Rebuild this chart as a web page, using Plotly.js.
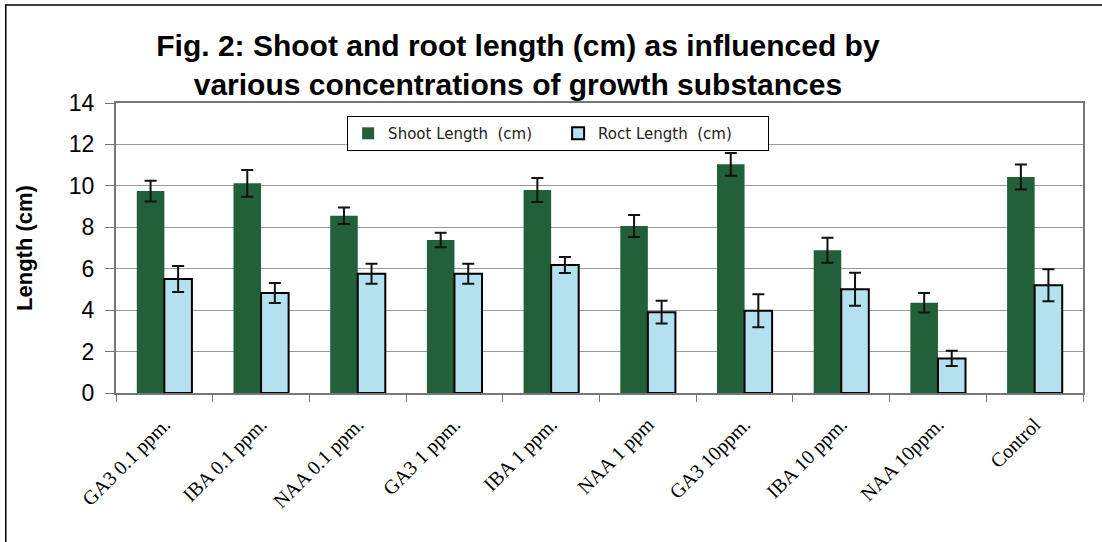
<!DOCTYPE html>
<html>
<head>
<meta charset="utf-8">
<script src="https://cdn.plot.ly/plotly-3.0.1.min.js"></script>
<style>html,body{margin:0;padding:0;background:#fff;}#chart{width:1102px;height:542px;}</style>
</head>
<body>
<div id="chart"></div>
<script>
const categories = ["GA3 0.1 ppm.", "IBA 0.1 ppm.", "NAA 0.1 ppm.", "GA3 1 ppm.", "IBA 1 ppm.", "NAA 1 ppm", "GA3 10ppm.", "IBA 10 ppm.", "NAA 10ppm.", "Control"];
const shootLength = [9.75, 10.12, 8.56, 7.39, 9.80, 8.06, 11.04, 6.89, 4.36, 10.43];
const shootError  = [0.50, 0.65, 0.40, 0.35, 0.58, 0.53, 0.55, 0.60, 0.47, 0.60];
const rootLength  = [5.50, 4.83, 5.76, 5.76, 6.18, 3.90, 3.97, 5.01, 1.67, 5.20];
const rootError   = [0.63, 0.48, 0.48, 0.48, 0.39, 0.55, 0.80, 0.80, 0.37, 0.77];
const yTicks = [0, 2, 4, 6, 8, 10, 12, 14];

const traces = [
  {
    type: "bar", name: "Shoot Length  (cm)", x: categories, y: shootLength,
    marker: {color: "#22603a", line: {width: 0}},
    error_y: {type: "data", array: shootError, visible: true, color: "#111", thickness: 2, width: 6}
  },
  {
    type: "bar", name: "Roct Length  (cm)", x: categories, y: rootLength,
    marker: {color: "#b4e1ef", line: {color: "#000", width: 2}},
    error_y: {type: "data", array: rootError, visible: true, color: "#111", thickness: 2, width: 6}
  }
];

const layout = {
  width: 1102, height: 542,
  margin: {l: 116, r: 19, t: 103, b: 149},
  paper_bgcolor: "#fff", plot_bgcolor: "#fff",
  barmode: "group", bargap: 0.43, bargroupgap: 0,
  title: {
    text: "Fig. 2: Shoot and root length (cm) as influenced by<br>various concentrations of growth substances",
    font: {family: "Liberation Sans, Arial, sans-serif", size: 30, color: "#000", weight: "bold"},
    x: 0.47, xanchor: "center", y: 0.897, yanchor: "top"
  },
  font: {family: "Liberation Sans, Arial, sans-serif", color: "#000"},
  xaxis: {
    type: "category", tickvals: categories, ticktext: categories,
    tickangle: -45, tickfont: {family: "Liberation Serif, Times New Roman, serif", size: 20, color: "#000"},
    ticks: "outside", tickson: "boundaries", ticklen: 7, tickcolor: "#777", tickwidth: 1,
    ticklabelstandoff: 10,
    showline: true, linecolor: "#777", linewidth: 2, mirror: true,
    showgrid: false, zeroline: false
  },
  yaxis: {
    range: [0, 14], tickvals: yTicks, ticktext: yTicks.map(String),
    tickfont: {size: 23, color: "#000"},
    ticks: "outside", ticklen: 9, tickcolor: "#777", tickwidth: 1,
    ticklabelstandoff: 6,
    showline: true, linecolor: "#777", linewidth: 2, mirror: true,
    showgrid: true, gridcolor: "#999", gridwidth: 1, zeroline: false,
    title: {text: "<b>Length (cm)</b>", font: {size: 22, color: "#000"}, standoff: 30}
  },
  legend: {
    orientation: "h", x: 0.239, xanchor: "left", y: 0.955, yanchor: "top",
    bgcolor: "#fff", bordercolor: "#000", borderwidth: 1,
    font: {family: "DejaVu Sans, Verdana, sans-serif", size: 15, color: "#222"},
    itemwidth: 30, entrywidth: 165, traceorder: "normal"
  },
  shapes: [
    {type: "rect", xref: "paper", yref: "paper", x0: -0.114, x1: 1.1, y0: -0.7, y1: 1.338,
     line: {color: "#000", width: 1.5}, fillcolor: "rgba(0,0,0,0)", layer: "below"}
  ],
  showlegend: true
};

Plotly.newPlot("chart", traces, layout, {displayModeBar: false, staticPlot: true});
</script>
</body>
</html>
